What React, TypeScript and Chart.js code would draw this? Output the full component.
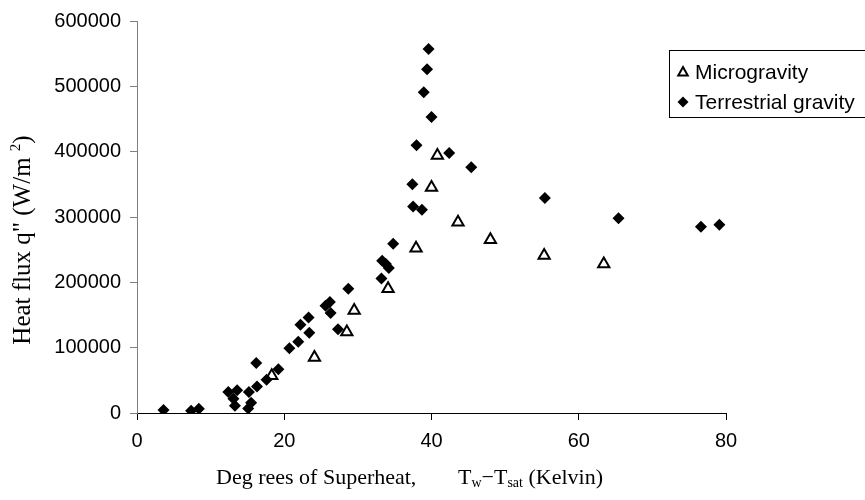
import React, { useEffect, useRef } from "react";
import { Chart, registerables } from "chart.js";

Chart.register(...registerables);

// Series names
const seriesNames = ["Microgravity", "Terrestrial gravity"];

// Microgravity (open triangles): superheat (K) and heat flux (W/m^2)
const microX = [18.3, 24.1, 28.5, 29.5, 34.1, 37.9, 40.0, 40.8, 43.6, 48.0, 55.3, 63.4];
const microY = [57000, 85000, 124000, 157000, 190000, 252000, 345000, 394000, 292000, 265000, 241000, 228000];

// Terrestrial gravity (filled diamonds)
const terrX = [
  3.6, 7.35, 8.4, 12.4, 13.6, 13.1, 13.3, 15.2, 15.5, 15.1, 16.2, 16.3, 17.6, 19.2,
  20.7, 21.9, 22.2, 23.3, 23.4, 25.6, 26.2, 26.3, 27.3, 28.7, 33.2, 33.3, 33.8, 34.2,
  34.8, 37.4, 37.5, 38.7, 37.96, 38.95, 39.4, 39.6, 40.0, 42.4, 45.4, 55.4, 65.4, 76.6, 79.1,
];
const terrY = [
  4500, 3500, 6500, 32000, 35000, 22000, 11000, 32000, 15500, 7000, 76500, 40500, 51000, 67000,
  99000, 109000, 135000, 146000, 123000, 164000, 170000, 153000, 128000, 190000, 206000, 233000, 228000, 222000,
  259000, 350000, 316000, 311000, 410000, 491000, 526000, 557000, 453000, 398000, 376000, 329000, 298000, 285000, 288000,
];

// Axes
const xTicks = [0, 20, 40, 60, 80];
const yTicks = [0, 100000, 200000, 300000, 400000, 500000, 600000];
const xTitleMain = "Deg rees of Superheat,";
const xTitleSymbol = ["T", "w", "\u2212T", "sat", " (Kelvin)"];
const yTitleMain = "Heat flux q\" (W/m ";
const yTitleSup = "2";
const yTitleEnd = ")";

const SANS = "'Liberation Sans', Arial, sans-serif";
const SERIF = "'Liberation Serif', 'Times New Roman', serif";

type Part = { t: string; size: number; dy: number };

function drawParts(ctx: CanvasRenderingContext2D, parts: Part[], x: number, y: number) {
  let cx = x;
  for (const p of parts) {
    ctx.font = `${p.size}px ${SERIF}`;
    ctx.fillText(p.t, cx, y + p.dy);
    cx += ctx.measureText(p.t).width;
  }
}
function partsWidth(ctx: CanvasRenderingContext2D, parts: Part[]) {
  let w = 0;
  for (const p of parts) {
    ctx.font = `${p.size}px ${SERIF}`;
    w += ctx.measureText(p.t).width;
  }
  return w;
}

const decor = {
  id: "decor",
  afterDraw(chart: any) {
    const ctx: CanvasRenderingContext2D = chart.ctx;
    ctx.save();
    ctx.fillStyle = "#000";
    ctx.textBaseline = "alphabetic";
    ctx.textAlign = "left";

    // Y title (rotated)
    const yParts: Part[] = [
      { t: yTitleMain, size: 25, dy: 0 },
      { t: yTitleSup, size: 15, dy: -10 },
      { t: yTitleEnd, size: 25, dy: 0 },
    ];
    ctx.save();
    ctx.translate(30, 240);
    ctx.rotate(-Math.PI / 2);
    const yw = partsWidth(ctx, yParts);
    drawParts(ctx, yParts, -yw / 2, 0);
    ctx.restore();

    // X title
    const big = 22;
    const small = 14;
    ctx.font = `${big}px ${SERIF}`;
    ctx.fillText(xTitleMain, 216, 484);
    const xParts: Part[] = [
      { t: xTitleSymbol[0], size: big, dy: 0 },
      { t: xTitleSymbol[1], size: small, dy: 3 },
      { t: xTitleSymbol[2], size: big, dy: 0 },
      { t: xTitleSymbol[3], size: small, dy: 3 },
      { t: xTitleSymbol[4], size: big, dy: 0 },
    ];
    drawParts(ctx, xParts, 458, 484);

    // Legend
    ctx.strokeStyle = "#000";
    ctx.lineWidth = 1;
    ctx.fillStyle = "#fff";
    ctx.fillRect(669.5, 50.5, 210, 67);
    ctx.strokeRect(669.5, 50.5, 210, 67);
    ctx.fillStyle = "#000";
    // triangle
    const tx = 683, ty = 72, r = 5;
    ctx.lineWidth = 2;
    ctx.beginPath();
    ctx.moveTo(tx, ty - r);
    ctx.lineTo(tx + r * 0.95, ty + r * 0.7);
    ctx.lineTo(tx - r * 0.95, ty + r * 0.7);
    ctx.closePath();
    ctx.stroke();
    // diamond
    const dx = 683, dy = 102;
    ctx.beginPath();
    ctx.moveTo(dx, dy - 5.5);
    ctx.lineTo(dx + 5.5, dy);
    ctx.lineTo(dx, dy + 5.5);
    ctx.lineTo(dx - 5.5, dy);
    ctx.closePath();
    ctx.fill();
    ctx.font = `21px ${SANS}`;
    ctx.textBaseline = "middle";
    ctx.fillText(seriesNames[0], 695, ty + 1);
    ctx.fillText(seriesNames[1], 695, dy + 1);
    ctx.restore();
  },
};

export default function App() {
  const ref = useRef<HTMLCanvasElement | null>(null);
  useEffect(() => {
    if (!ref.current) return;
    const chart = new Chart(ref.current, {
      type: "scatter",
      data: {
        datasets: [
          {
            label: seriesNames[1],
            data: terrX.map((x, i) => ({ x, y: terrY[i] })),
            pointStyle: "rectRot",
            pointRadius: 6,
            pointHoverRadius: 6,
            backgroundColor: "#000",
            borderColor: "#000",
            borderWidth: 0,
            order: 0,
          },
          {
            label: seriesNames[0],
            data: microX.map((x, i) => ({ x, y: microY[i] })),
            pointStyle: "triangle",
            pointRadius: 6.5,
            pointHoverRadius: 6.5,
            backgroundColor: "#fff",
            borderColor: "#000",
            borderWidth: 2,
            order: 1,
          },
        ],
      },
      options: {
        responsive: false,
        animation: false,
        layout: { padding: { top: 17, right: 139, left: 0, bottom: 0 } },
        plugins: { legend: { display: false }, tooltip: { enabled: false } },
        scales: {
          x: {
            type: "linear",
            min: 0,
            max: 80,
            afterBuildTicks: (s: any) => {
              s.ticks = xTicks.map((v) => ({ value: v }));
            },
            afterFit: (s: any) => {
              s.height = 87;
            },
            ticks: {
              color: "#000",
              font: { family: SANS, size: 20 },
              padding: 9,
              maxRotation: 0,
            },
            grid: { display: true, drawOnChartArea: false, drawTicks: true, tickLength: 7, color: "#000" },
            border: { display: true, color: "#000", width: 1 },
          },
          y: {
            type: "linear",
            min: 0,
            max: 600000,
            afterBuildTicks: (s: any) => {
              s.ticks = yTicks.map((v) => ({ value: v }));
            },
            afterFit: (s: any) => {
              s.width = 137;
            },
            ticks: {
              color: "#000",
              font: { family: SANS, size: 20 },
              padding: 9,
              callback: (v: any) => String(v),
            },
            grid: { display: true, drawOnChartArea: false, drawTicks: true, tickLength: 7, color: "#808080" },
            border: { display: true, color: "#808080", width: 1 },
          },
        },
      },
      plugins: [decor],
    });
    return () => chart.destroy();
  }, []);
  return (
    <div style={{ position: "absolute", left: 0, top: 0, width: 865, height: 500, background: "#fff" }}>
      <canvas ref={ref} width={865} height={500} style={{ width: 865, height: 500 }} />
    </div>
  );
}
